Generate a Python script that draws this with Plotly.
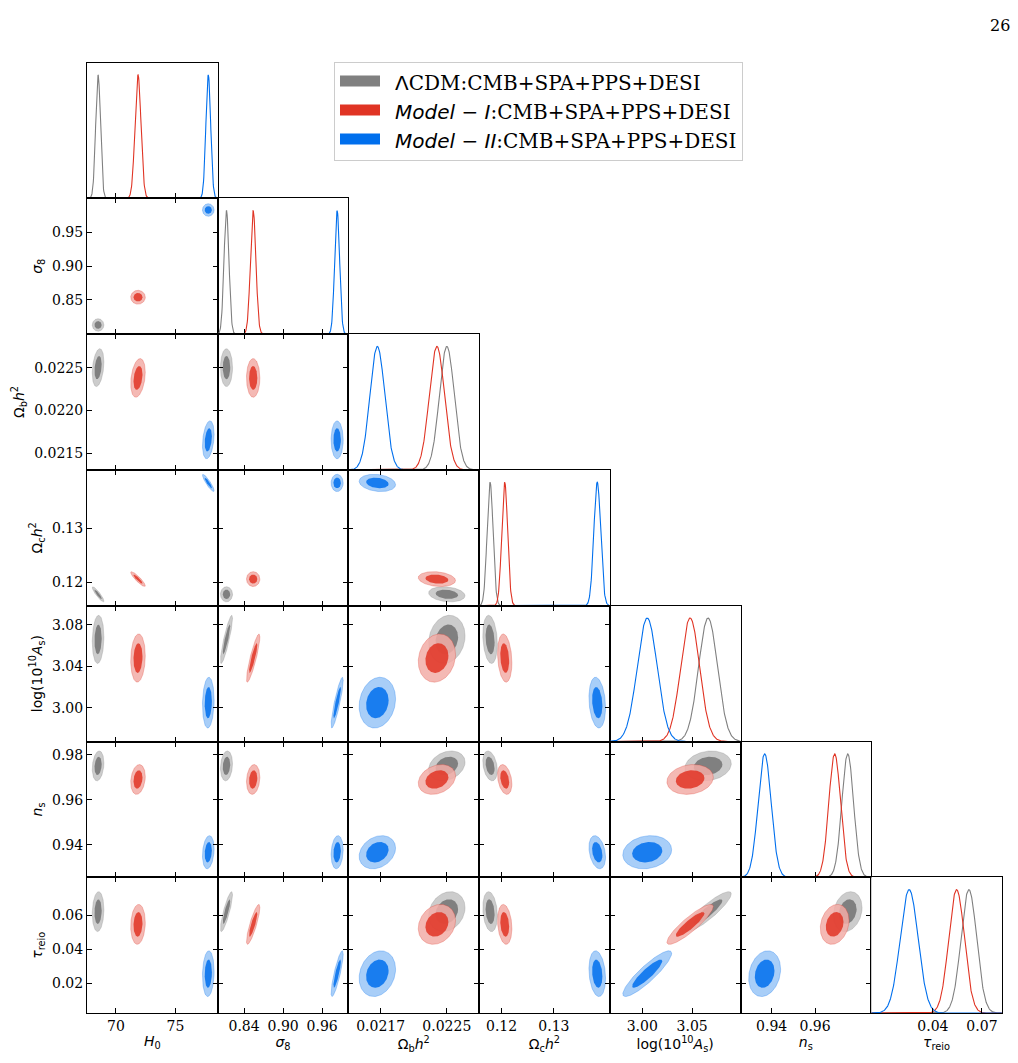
import numpy as np
import plotly.graph_objects as go

# ---------------- data ----------------
params = ["H0", "sigma8", "ombh2", "omch2", "logA", "ns", "tau"]
labels = ["<i>H</i><sub>0</sub>", "<i>σ</i><sub>8</sub>",
          "Ω<sub>b</sub><i>h</i><sup>2</sup>", "Ω<sub>c</sub><i>h</i><sup>2</sup>",
          "log(10<sup>10</sup><i>A</i><sub>s</sub>)", "<i>n</i><sub>s</sub>",
          "<i>τ</i><sub>reio</sub>"]

model_names = [
    "\u2002<span style='font-family:DejaVu Sans'>Λ</span>CDM:CMB+SPA+PPS+DESI",
    "\u2002<span style='font-family:DejaVu Sans'><i>Model − I</i></span>:CMB+SPA+PPS+DESI",
    "\u2002<span style='font-family:DejaVu Sans'><i>Model − II</i></span>:CMB+SPA+PPS+DESI",
]
model_colors = ["#808080", "#E03424", "#006FED"]
model_alpha = [1.0, 0.85, 0.85]

mean_lcdm = [68.50, 0.813, 0.02250, 0.1178, 3.066, 0.9750, 0.0620]
sigma_lcdm = [0.20, 0.0038, 0.000090, 0.00057, 0.0095, 0.0027, 0.0048]

mean_m1 = [71.85, 0.854, 0.02238, 0.1206, 3.048, 0.9690, 0.0545]
sigma_m1 = [0.25, 0.0042, 0.000092, 0.00056, 0.0095, 0.0027, 0.0048]

mean_m2 = [77.75, 0.983, 0.02166, 0.1383, 3.005, 0.9368, 0.0255]
sigma_m2 = [0.20, 0.0038, 0.000090, 0.00065, 0.0100, 0.0030, 0.0055]

corr = [
    [1.00, 0.00, 0.30, -0.90, 0.10, 0.20, 0.10],
    [0.00, 1.00, 0.00, 0.00, 0.88, 0.15, 0.85],
    [0.30, 0.00, 1.00, -0.20, 0.15, 0.25, 0.20],
    [-0.90, 0.00, -0.20, 1.00, -0.20, -0.30, -0.20],
    [0.10, 0.88, 0.15, -0.20, 1.00, 0.15, 0.89],
    [0.20, 0.15, 0.25, -0.30, 0.15, 1.00, 0.20],
    [0.10, 0.85, 0.20, -0.20, 0.89, 0.20, 1.00],
]

axis_ranges = [
    [67.57, 78.54],
    [0.7995, 1.0003],
    [0.02131, 0.02289],
    [0.1157, 0.1407],
    [2.9675, 3.0985],
    [0.9257, 0.9858],
    [0.0023, 0.0822],
]

xtick_vals = [[70, 75], [0.84, 0.90, 0.96], [0.0217, 0.0225], [0.12, 0.13],
              [3.00, 3.05], [0.94, 0.96], [0.04, 0.07]]
xtick_text = [["70", "75"], ["0.84", "0.90", "0.96"], ["0.0217", "0.0225"],
              ["0.12", "0.13"], ["3.00", "3.05"], ["0.94", "0.96"], ["0.04", "0.07"]]
ytick_vals = [[], [0.85, 0.90, 0.95], [0.0215, 0.0220, 0.0225], [0.12, 0.13],
              [3.00, 3.04, 3.08], [0.94, 0.96, 0.98], [0.02, 0.04, 0.06]]
ytick_text = [[], ["0.85", "0.90", "0.95"], ["0.0215", "0.0220", "0.0225"],
              ["0.12", "0.13"], ["3.00", "3.04", "3.08"], ["0.94", "0.96", "0.98"],
              ["0.02", "0.04", "0.06"]]

contour_levels = [0.95, 0.68]

means = [mean_lcdm, mean_m1, mean_m2]
sigmas = [sigma_lcdm, sigma_m1, sigma_m2]

# ---------------- layout geometry ----------------
W, H = 1018, 1063
N = len(params)
X0, CW = 87.0, 130.7
Y0, RH = 62.5, 135.8

TICKFONT = dict(family="DejaVu Serif", size=14, color="black")
TITLEFONT = dict(family="DejaVu Sans", size=14, color="black")


def hex_rgb(h):
    h = h.lstrip("#")
    return [int(h[i:i + 2], 16) for i in (0, 2, 4)]


def rgba(rgb, a):
    return "rgba(%d,%d,%d,%.3f)" % (rgb[0], rgb[1], rgb[2], a)


def pale(rgb, f=0.6):
    return [c * (1 - f) + 255 * f for c in rgb]


fig = go.Figure()
layout = {}
n = 0
for i in range(N):          # row
    for j in range(i + 1):  # column
        n += 1
        xa = "xaxis" if n == 1 else "xaxis%d" % n
        ya = "yaxis" if n == 1 else "yaxis%d" % n
        xr = "x" if n == 1 else "x%d" % n
        yr = "y" if n == 1 else "y%d" % n
        x0 = X0 + CW * j
        y0 = Y0 + RH * i
        dx = [x0 / W, (x0 + CW) / W]
        dy = [1 - (y0 + RH) / H, 1 - y0 / H]
        bottom = (i == N - 1)
        left = (j == 0)
        diag = (i == j)
        xdict = dict(
            domain=dx, anchor=yr, range=axis_ranges[j], showgrid=False, zeroline=False,
            showline=True, linecolor="black", linewidth=1,
            mirror=True if diag else "ticks",
            ticks="inside", ticklen=5, tickwidth=1, tickcolor="black",
            tickmode="array", tickvals=xtick_vals[j], ticktext=xtick_text[j],
            showticklabels=bottom, tickfont=TICKFONT,
        )
        if bottom:
            xdict["title"] = dict(text=labels[j], font=TITLEFONT, standoff=3)
        layout[xa] = xdict
        if diag:
            layout[ya] = dict(
                domain=dy, anchor=xr, range=[0, 1.1], showgrid=False, zeroline=False,
                showline=True, linecolor="black", linewidth=1, mirror=True,
                ticks="", showticklabels=False,
            )
            xs = np.linspace(axis_ranges[j][0], axis_ranges[j][1], 500)
            for m in range(3):
                ys = np.exp(-0.5 * ((xs - means[m][j]) / sigmas[m][j]) ** 2)
                fig.add_trace(go.Scatter(
                    x=xs, y=ys, mode="lines", xaxis=xr, yaxis=yr,
                    line=dict(color=model_colors[m], width=1.1),
                    showlegend=False, hoverinfo="skip"))
        else:
            ydict = dict(
                domain=dy, anchor=xr, range=axis_ranges[i], showgrid=False, zeroline=False,
                showline=True, linecolor="black", linewidth=1, mirror="ticks",
                ticks="inside", ticklen=5, tickwidth=1, tickcolor="black",
                tickmode="array", tickvals=ytick_vals[i], ticktext=ytick_text[i],
                showticklabels=left, tickfont=TICKFONT,
            )
            if left:
                ydict["title"] = dict(text=labels[i], font=TITLEFONT, standoff=6)
            layout[ya] = ydict
            t = np.linspace(0, 2 * np.pi, 160)
            for m in range(3):
                base = hex_rgb(model_colors[m])
                a = model_alpha[m]
                mx, my = means[m][j], means[m][i]
                sx, sy = sigmas[m][j], sigmas[m][i]
                rho = corr[i][j]
                for k, p in enumerate(contour_levels):
                    r = np.sqrt(-2 * np.log(1 - p))
                    ex = mx + r * sx * np.cos(t)
                    ey = my + r * sy * (rho * np.cos(t) + np.sqrt(1 - rho ** 2) * np.sin(t))
                    col = pale(base) if k == 0 else base
                    fig.add_trace(go.Scatter(
                        x=ex, y=ey, mode="lines", xaxis=xr, yaxis=yr,
                        fill="toself", fillcolor=rgba(col, a),
                        line=dict(color=rgba(base, 0.35 if k == 0 else 0.0), width=0.8),
                        showlegend=False, hoverinfo="skip"))

# legend entries
for m in range(3):
    fig.add_trace(go.Scatter(
        x=[None], y=[None], mode="lines", fill="toself", fillcolor=model_colors[m],
        line=dict(color=model_colors[m], width=10), name=model_names[m],
        legendgroup="g%d" % m, showlegend=True, hoverinfo="skip"))

fig.update_layout(**layout)
fig.update_layout(
    width=W, height=H, margin=dict(l=0, r=0, t=0, b=0),
    paper_bgcolor="white", plot_bgcolor="white",
    showlegend=True,
    legend=dict(x=334 / W, y=1 - 62 / H, xanchor="left", yanchor="top",
                bgcolor="white", bordercolor="#cccccc", borderwidth=1,
                font=dict(family="DejaVu Serif", size=20, color="black"),
                itemwidth=40, tracegroupgap=4, traceorder="normal"),
    annotations=[dict(text="26", x=1012 / W, y=1 - 25 / H, xref="paper", yref="paper",
                      xanchor="right", yanchor="middle", showarrow=False,
                      font=dict(family="DejaVu Serif", size=16, color="black"))],
)

fig.write_html("out.html")
